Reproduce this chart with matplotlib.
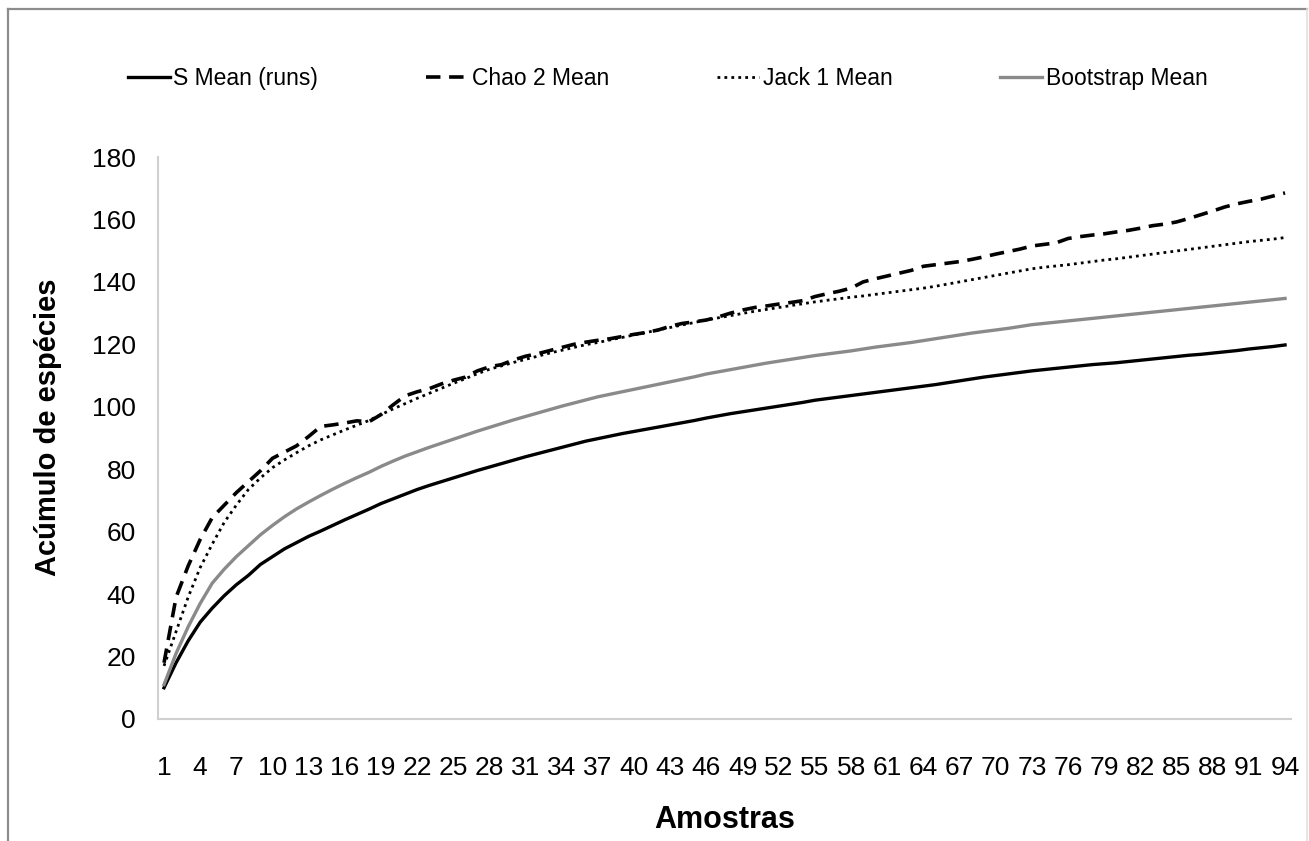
import matplotlib
matplotlib.use("Agg")
import matplotlib.pyplot as plt
from matplotlib.lines import Line2D

# amostras 1..94
amostras = list(range(1, 95))

s_mean = [10, 18, 25, 31, 35.5, 39.5, 43, 46, 49.5, 52,
          54.5, 56.5, 58.5, 60.2, 62, 63.8, 65.5, 67.2, 69, 70.5,
          72, 73.5, 74.8, 76, 77.2, 78.4, 79.6, 80.7, 81.8, 82.9,
          84, 85, 86, 87, 88, 89, 89.8, 90.6, 91.4, 92.1,
          92.8, 93.5, 94.2, 94.9, 95.6, 96.4, 97.1, 97.8, 98.4, 99,
          99.6, 100.2, 100.8, 101.4, 102.1, 102.6, 103.1, 103.6, 104.1, 104.6,
          105.1, 105.6, 106.1, 106.6, 107.1, 107.7, 108.3, 108.9, 109.5, 110,
          110.5, 111, 111.5, 111.9, 112.3, 112.7, 113.1, 113.5, 113.8, 114.1,
          114.5, 114.9, 115.3, 115.7, 116.1, 116.5, 116.8, 117.2, 117.6, 118,
          118.5, 118.9, 119.3, 119.8]

chao2 = [18, 39, 49, 57.5, 64.5, 68.5, 72.5, 76, 79.5, 83.5,
         85.5, 87.5, 90.5, 93.7, 94.2, 94.8, 95.5, 95.2, 97.5, 100.6,
         103.5, 104.8, 105.8, 107.3, 108.5, 109.5, 111.5, 112.8, 113.5, 115,
         116.2, 117, 118, 119, 120, 120.7, 121.3, 121.8, 122.5, 123.2,
         123.8, 124.6, 125.8, 126.7, 127.2, 127.8, 128.8, 130, 131, 131.8,
         132.3, 132.9, 133.4, 134, 135.3, 136.2, 137, 138, 140, 141,
         141.9, 142.8, 143.7, 145, 145.5, 146, 146.5, 147.2, 148, 148.9,
         149.7, 150.5, 151.5, 152, 152.5, 153.9, 154.5, 155, 155.4, 156,
         156.5, 157.2, 158, 158.5, 159.2, 160.3, 161.5, 162.7, 164, 165,
         165.8, 166.5, 167.5, 168.5]

jack1 = [17, 28, 39, 48.5, 56, 63, 68.5, 73.5, 77.2, 80.5,
         83, 85.3, 87.5, 89.4, 91, 92.6, 94.1, 95.6, 97.5, 99.3,
         101, 102.7, 104.3, 105.9, 107.5, 109, 110.6, 112, 113.1, 114.2,
         115.2, 116.2, 117.2, 118.1, 119, 119.9, 120.6, 121.4, 122.2, 123,
         123.8, 124.6, 125.4, 126.2, 127, 127.8, 128.5, 129.2, 129.9, 130.6,
         131.2, 131.8, 132.4, 133, 133.6, 134.1, 134.6, 135.1, 135.5, 136,
         136.5, 137, 137.5, 138, 138.6, 139.3, 140, 140.7, 141.4, 142.1,
         142.8, 143.5, 144.2, 144.7, 145.1, 145.5, 146, 146.5, 147, 147.4,
         147.9, 148.4, 148.9, 149.4, 149.9, 150.4, 150.9, 151.4, 151.9, 152.4,
         152.9, 153.3, 153.7, 154.2]

bootstrap = [11, 21, 29.5, 37, 43.5, 48, 52, 55.5, 59, 62,
             64.8, 67.3, 69.5, 71.6, 73.6, 75.5, 77.3, 79, 80.9, 82.6,
             84.2, 85.6, 87, 88.3, 89.6, 90.9, 92.2, 93.4, 94.6, 95.8,
             96.9, 98, 99.1, 100.2, 101.2, 102.2, 103.2, 104, 104.8, 105.6,
             106.4, 107.2, 108, 108.8, 109.6, 110.5, 111.2, 111.9, 112.6, 113.3,
             114, 114.6, 115.2, 115.8, 116.4, 116.9, 117.4, 117.9, 118.5, 119.1,
             119.6, 120.1, 120.6, 121.2, 121.8, 122.4, 123, 123.6, 124.1, 124.6,
             125.1, 125.7, 126.3, 126.7, 127.1, 127.5, 127.9, 128.3, 128.7, 129.1,
             129.5, 129.9, 130.3, 130.7, 131.1, 131.5, 131.9, 132.3, 132.7, 133.1,
             133.5, 133.9, 134.3, 134.7]

labels = ["S Mean (runs)", "Chao 2 Mean", "Jack 1 Mean", "Bootstrap Mean"]

fonte = "Liberation Sans"

fig = plt.figure(figsize=(13.09, 8.41), dpi=100)
ax = fig.add_axes([0.1207, 0.1451, 0.8656, 0.6682])

ax.plot(amostras, s_mean, color="black", lw=2.4, label=labels[0])
ax.plot(amostras, chao2, color="black", lw=2.6, dashes=(4, 2.4), label=labels[1])
ax.plot(amostras, jack1, color="black", lw=2.0, dashes=(1, 1.5), label=labels[2])
ax.plot(amostras, bootstrap, color="#8a8a8a", lw=2.4, label=labels[3])

ax.set_xlim(0.5, 94.5)
ax.set_ylim(0, 180)
ax.set_yticks(range(0, 181, 20))
ax.set_xticks(amostras[::3])

for s in ["top", "right"]:
    ax.spines[s].set_visible(False)
for s in ["left", "bottom"]:
    ax.spines[s].set_color("#d0d0d0")
    ax.spines[s].set_linewidth(1.5)
ax.tick_params(length=0)
ax.tick_params(axis="y", pad=16)
ax.tick_params(axis="x", pad=27)
for t in ax.get_xticklabels() + ax.get_yticklabels():
    t.set_fontfamily(fonte)
    t.set_fontsize(19)

ax.set_xlabel("Amostras", fontfamily=fonte, fontweight="bold", fontsize=22, labelpad=18)
ax.set_ylabel("Acúmulo de espécies", fontfamily=fonte, fontweight="bold",
              fontsize=21, labelpad=14)
ax.yaxis.set_label_coords(-0.085, 0.52)

fig.legend(loc="center", bbox_to_anchor=(0.51, 0.907), ncol=4, frameon=False,
           prop={"family": fonte, "size": 16.5}, handlelength=1.85, handletextpad=0.15,
           columnspacing=4.7)

# moldura da área do gráfico
fig.add_artist(Line2D([8 / 1309, 8 / 1309], [0, 1 - 9 / 841], color="#8c8c8c", lw=1.6))
fig.add_artist(Line2D([8 / 1309, 1307 / 1309], [1 - 9 / 841, 1 - 9 / 841], color="#8c8c8c", lw=1.6))
fig.add_artist(Line2D([1307 / 1309, 1307 / 1309], [0, 1 - 9 / 841], color="#e0e0e0", lw=1.2))

fig.savefig("out.png", dpi=100)
